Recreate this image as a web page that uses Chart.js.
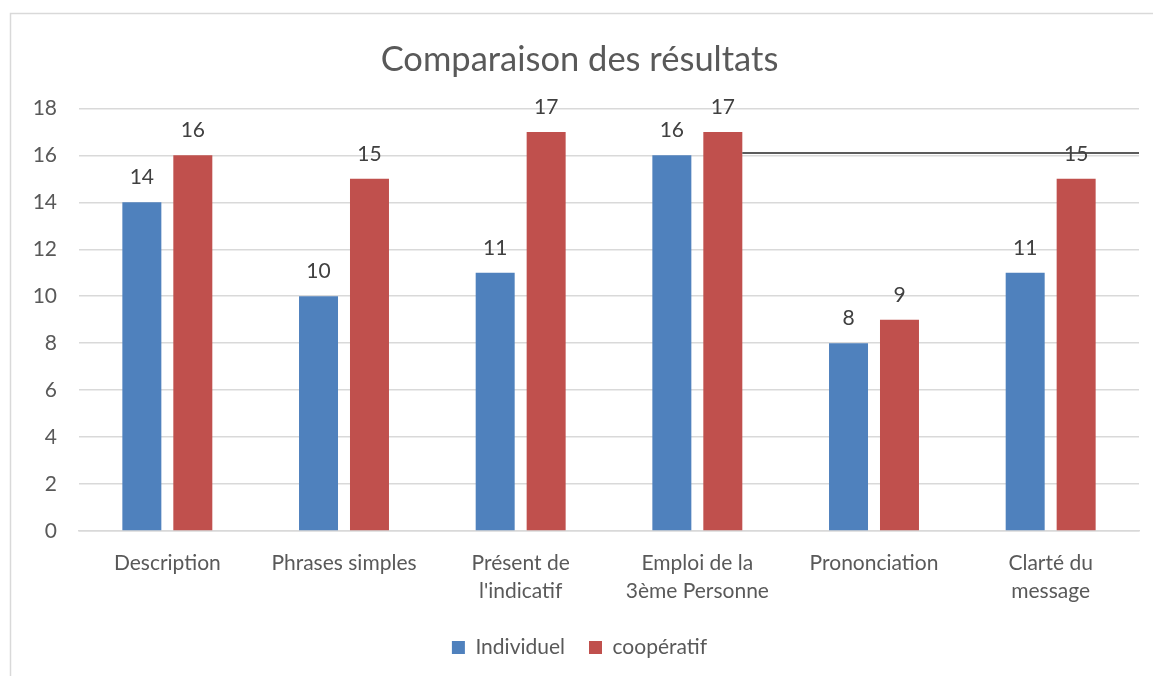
<!DOCTYPE html>
<html>
<head>
<meta charset="utf-8">
<script src="https://cdn.jsdelivr.net/npm/chart.js@4/dist/chart.umd.min.js"></script>
<style>
  html, body { margin: 0; padding: 0; background: #ffffff; }
  #wrap { position: relative; width: 1153px; height: 676px; }
</style>
</head>
<body>
<div id="wrap"><canvas id="c" width="1153" height="676"></canvas></div>
<script>
// ---- data ----
const categories = [
  ['Description'],
  ['Phrases simples'],
  ['Présent de', "l'indicatif"],
  ['Emploi de la', '3ème Personne'],
  ['Prononciation'],
  ['Clarté du', 'message']
];
const seriesNames = ['Individuel', 'coopératif'];
const individuel = [14, 10, 11, 16, 8, 11];
const cooperatif = [16, 15, 17, 17, 9, 15];
const yTicks = [0, 2, 4, 6, 8, 10, 12, 14, 16, 18];
const chartTitle = 'Comparaison des résultats';
// stray horizontal line present in the reference
const strayLineValue = 16.1;
const strayLineFromCategory = 3;

const FONT = 'Lato, "Open Sans", sans-serif';
const TEXT = '#595959';
const GRID = '#d9d9d9';

const framePlugin = {
  id: 'frame',
  beforeDraw(chart) {
    const ctx = chart.ctx;
    ctx.save();
    ctx.strokeStyle = GRID;
    ctx.lineWidth = 1.5;
    ctx.beginPath();
    ctx.moveTo(10.5, chart.height);
    ctx.lineTo(10.5, 13.5);
    ctx.lineTo(chart.width, 13.5);
    ctx.stroke();
    ctx.restore();
  }
};

const strayLinePlugin = {
  id: 'strayLine',
  afterDatasetsDraw(chart) {
    const meta = chart.getDatasetMeta(1);
    const bar = meta.data[strayLineFromCategory];
    const y = chart.scales.y.getPixelForValue(strayLineValue);
    const ctx = chart.ctx;
    ctx.save();
    ctx.strokeStyle = '#262626';
    ctx.lineWidth = 1.5;
    ctx.beginPath();
    ctx.moveTo(bar.x + bar.width / 2, y);
    ctx.lineTo(chart.chartArea.right, y);
    ctx.stroke();
    ctx.restore();
  }
};

const valueLabelPlugin = {
  id: 'valueLabels',
  afterDraw(chart) {
    const ctx = chart.ctx;
    ctx.save();
    ctx.font = '21px ' + FONT;
    ctx.fillStyle = '#404040';
    ctx.textAlign = 'center';
    ctx.textBaseline = 'alphabetic';
    chart.data.datasets.forEach((ds, di) => {
      const meta = chart.getDatasetMeta(di);
      meta.data.forEach((bar, i) => {
        ctx.fillText(String(ds.data[i]), bar.x, bar.y - 18);
      });
    });
    ctx.restore();
  }
};

new Chart(document.getElementById('c'), {
  type: 'bar',
  data: {
    labels: categories,
    datasets: [
      { label: seriesNames[0], data: individuel, backgroundColor: '#4F81BD',
        categoryPercentage: 0.577, barPercentage: 0.765 },
      { label: seriesNames[1], data: cooperatif, backgroundColor: '#C0504D',
        categoryPercentage: 0.577, barPercentage: 0.765 }
    ]
  },
  options: {
    responsive: false,
    animation: false,
    devicePixelRatio: 1,
    layout: { padding: { left: 20, right: 14, top: 13, bottom: 8 } },
    plugins: {
      title: {
        display: true, text: chartTitle, color: TEXT,
        font: { family: FONT, size: 34.5, weight: 'normal', lineHeight: 1.2 },
        padding: { top: 26, bottom: 28 }
      },
      legend: {
        display: true, position: 'bottom',
        labels: {
          color: TEXT, boxWidth: 13, boxHeight: 13, padding: 24,
          font: { family: FONT, size: 21 }
        }
      },
      tooltip: { enabled: false }
    },
    scales: {
      x: {
        grid: { display: false, drawTicks: false },
        border: { display: true, color: GRID, width: 1.5 },
        ticks: { color: TEXT, font: { family: FONT, size: 21, lineHeight: 1.33 },
                 padding: 18, maxRotation: 0, autoSkip: false },
        afterFit(scale) { scale.height = 82; }
      },
      y: {
        min: 0, max: 18,
        afterBuildTicks(scale) { scale.ticks = yTicks.map(v => ({ value: v })); },
        grid: { color: GRID, lineWidth: 1.5, drawTicks: false },
        border: { display: false },
        ticks: { color: TEXT, font: { family: FONT, size: 21 }, padding: 22 },
        afterFit(scale) { scale.width = 59; }
      }
    }
  },
  plugins: [framePlugin, strayLinePlugin, valueLabelPlugin]
});
</script>
</body>
</html>
